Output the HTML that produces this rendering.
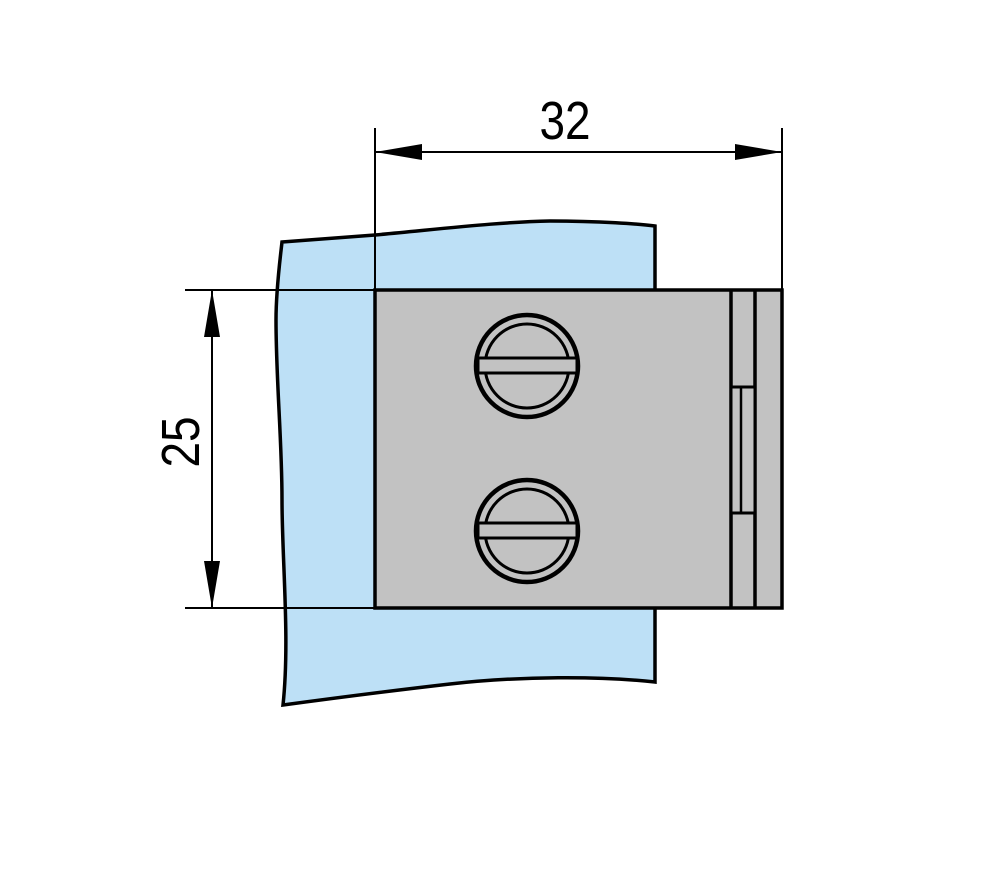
<!DOCTYPE html><html><head><style>body{margin:0;background:#fff}</style></head><body>
<svg width="988" height="887" viewBox="0 0 988 887" xmlns="http://www.w3.org/2000/svg">
<path d="M282,242 L375,235 C450,228 500,222 550,221 C600,221 640,224 655,226 L655,682 C600,676 520,676 450,684 C380,692 320,700 283,705 C290,640 282,560 282,500 C282,440 276,380 276,320 C276,290 280,260 282,242 Z" fill="#bde0f6" stroke="#000" stroke-width="3.5"/>
<rect x="375" y="290" width="407" height="318" fill="#c2c2c2" stroke="#000" stroke-width="3.5"/>
<line x1="731" y1="290" x2="731" y2="608" stroke="#000" stroke-width="3.5"/>
<line x1="755" y1="290" x2="755" y2="608" stroke="#000" stroke-width="3.5"/>
<rect x="731" y="387" width="24" height="126" fill="#c2c2c2" stroke="#000" stroke-width="3"/>
<line x1="741" y1="387" x2="741" y2="513" stroke="#000" stroke-width="2.5"/>
<g fill="none" stroke="#000">
<circle cx="527" cy="366" r="51" stroke-width="4.5"/><circle cx="527" cy="366" r="42" stroke-width="3"/>
<rect x="478" y="358" width="99" height="15" fill="#c2c2c2" stroke-width="3"/>
<circle cx="527" cy="531" r="51" stroke-width="4.5"/><circle cx="527" cy="531" r="42" stroke-width="3"/>
<rect x="478" y="523" width="99" height="15" fill="#c2c2c2" stroke-width="3"/>
</g>
<g stroke="#000" stroke-width="2">
<line x1="375" y1="128" x2="375" y2="290"/><line x1="782" y1="128" x2="782" y2="290"/>
<line x1="375" y1="152" x2="782" y2="152"/>
<line x1="185" y1="290" x2="375" y2="290"/><line x1="185" y1="608" x2="375" y2="608"/>
<line x1="212" y1="290" x2="212" y2="608"/>
</g>
<path d="M375,152 L422,144 L422,160Z M782,152 L735,144 L735,160Z M212,290 L204,337 L220,337Z M212,608 L204,561 L220,561Z" fill="#000"/>
<text transform="translate(565,139) scale(0.85,1)" font-family="Liberation Sans, sans-serif" font-size="54" text-anchor="middle">32</text>
<text transform="translate(199,442) rotate(-90) scale(0.85,1)" font-family="Liberation Sans, sans-serif" font-size="54" text-anchor="middle">25</text>
</svg></body></html>
